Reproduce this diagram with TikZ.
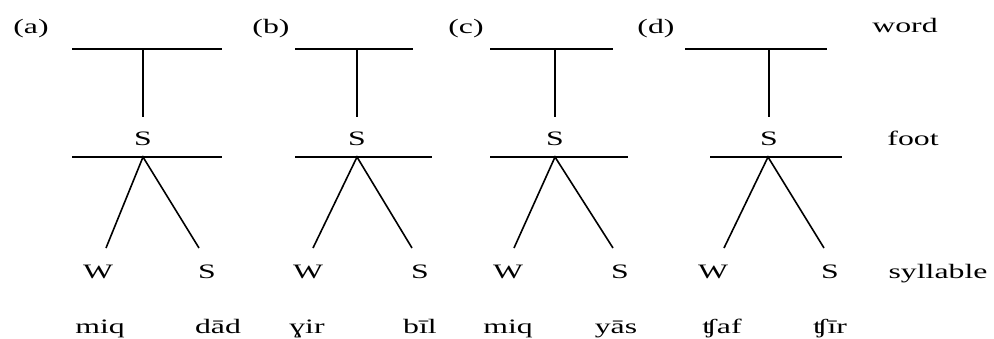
\documentclass[tikz,border=0pt]{standalone}
\usepackage{fontspec}
\setmainfont[FakeStretch=1.55]{Liberation Serif}
\begin{document}
\begin{tikzpicture}[x=0.5pt,y=-0.5pt,line width=0.8pt,
  txt/.style={anchor=base,inner sep=0pt,font=\fontsize{10.25}{12}\selectfont}]
\useasboundingbox (0,0) rectangle (994,338);
\foreach \p/\lx/\wl/\wr/\vx/\fl/\fr/\ax/\lex/\rex/\Wx/\Sx/\ta/\tb/\sa/\sb in {
  a/31/72/222/143/72/222/143/106/199/98/207/100/218/miq/dād,
  b/271/295/413/357/295/432/357/313/412/308/420/307/420/ɣir/bīl,
  c/466/490/613/555/490/628/555/514/613/508/620/508/616/miq/yās,
  d/656/685/827/769/710/842/768/724/824/713/830/722/830/ʧaf/ʧīr}{
  \node[txt] (\p-lab) at (\lx,33) {(\p)};
  \coordinate (\p-wl) at (\wl,49);
  \coordinate (\p-wr) at (\wr,49);
  \coordinate (\p-wm) at (\vx,49);
  \coordinate (\p-vb) at (\vx,117);
  \draw (\p-wl) -- (\p-wr);
  \draw (\p-wm) -- (\p-vb);
  \node[txt] (\p-fs) at (\vx,145) {S};
  \coordinate (\p-fl) at (\fl,157);
  \coordinate (\p-fr) at (\fr,157);
  \coordinate (\p-ap) at (\ax,157);
  \coordinate (\p-le) at (\lex,248);
  \coordinate (\p-re) at (\rex,248);
  \draw (\p-fl) -- (\p-fr);
  \draw (\p-le) -- (\p-ap) -- (\p-re);
  \node[txt] (\p-w) at (\Wx,278) {W};
  \node[txt] (\p-s) at (\Sx,278) {S};
  \node[txt] (\p-t1) at (\ta,333) {\sa};
  \node[txt] (\p-t2) at (\tb,333) {\sb};
}
\node[txt] (word) at (905,32) {word};
\node[txt] (foot) at (913,145) {foot};
\node[txt] (syl) at (938,278) {syllable};
\end{tikzpicture}
\end{document}
